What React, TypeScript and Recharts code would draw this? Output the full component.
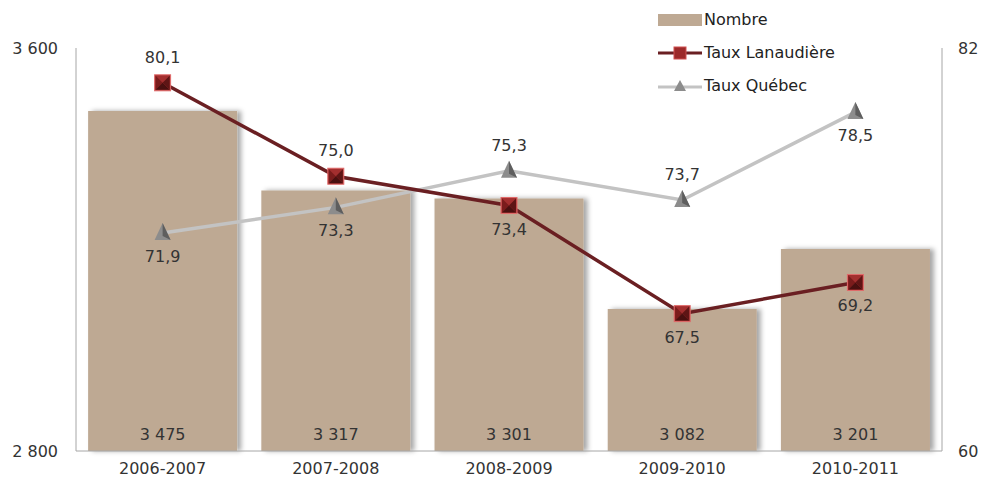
import { Bar, ComposedChart, LabelList, Line, XAxis, YAxis } from "recharts";

const years = ["2006-2007", "2007-2008", "2008-2009", "2009-2010", "2010-2011"];
const nombre = [3475, 3317, 3301, 3082, 3201];
const tauxLanaudiere = [80.1, 75.0, 73.4, 67.5, 69.2];
const tauxQuebec = [71.9, 73.3, 75.3, 73.7, 78.5];
const lanaudiereAbove = [true, true, false, false, false];
const quebecAbove = [false, false, true, true, false];

const data = years.map((year, i) => ({
  year,
  nombre: nombre[i],
  lanaudiere: tauxLanaudiere[i],
  quebec: tauxQuebec[i],
}));

const FONT = "Verdana, 'DejaVu Sans', sans-serif";
const FS = 16;
const BAR = "#bea993";
const MAROON = "#6a1f22";
const GREY_LINE = "#c3c3c3";

const fmtThousands = (v: number) => String(v).replace(/\B(?=(\d{3})+(?!\d))/g, " ");
const fmtComma = (v: number) => v.toFixed(1).replace(".", ",");

function SquareDot(props: any) {
  const { cx, cy } = props;
  if (cx == null || cy == null) return null;
  return (
    <g>
      <rect x={cx - 8} y={cy - 8} width={16} height={16} fill="#a32f2f" stroke="#e06a6a" strokeWidth={1} />
      <polygon points={`${cx - 7},${cy - 7} ${cx},${cy} ${cx - 7},${cy + 7}`} fill="#7a1c1c" />
      <polygon points={`${cx - 7},${cy + 7} ${cx},${cy} ${cx + 7},${cy + 7}`} fill="#4a1010" />
      <polygon points={`${cx + 7},${cy - 7} ${cx},${cy} ${cx + 7},${cy + 7}`} fill="#5e1515" />
    </g>
  );
}

function TriDot(props: any) {
  const { cx, cy } = props;
  if (cx == null || cy == null) return null;
  return (
    <g>
      <polygon points={`${cx},${cy - 10} ${cx + 8},${cy + 7} ${cx - 8},${cy + 7}`} fill="#8c8c8c" />
      <polygon points={`${cx},${cy - 10} ${cx + 8},${cy + 7} ${cx},${cy + 3}`} fill="#5e5e5e" />
    </g>
  );
}

function makeLineLabel(values: number[], above: boolean[]) {
  return (props: any) => {
    const { x, y, index } = props;
    const up = above[index];
    return (
      <text x={x} y={up ? y - 20 : y + 29} textAnchor="middle" fontSize={FS} fontFamily={FONT} fill="#333">
        {fmtComma(values[index])}
      </text>
    );
  };
}

function BarLabel(props: any) {
  const { x, width, index } = props;
  return (
    <text x={x + width / 2} y={440} textAnchor="middle" fontSize={FS} fontFamily={FONT} fill="#333">
      {fmtThousands(nombre[index])}
    </text>
  );
}

function LegendBox() {
  const row = { display: "flex", alignItems: "center", height: 33, fontSize: FS, fontFamily: FONT, color: "#222" } as const;
  return (
    <div style={{ position: "absolute", left: 658, top: 3 }}>
      <div style={row}>
        <div style={{ width: 44, height: 12, background: BAR, marginRight: 2 }} />
        Nombre
      </div>
      <div style={row}>
        <svg width={44} height={16} style={{ marginRight: 2 }}>
          <line x1={0} y1={8} x2={44} y2={8} stroke={MAROON} strokeWidth={3} />
          <rect x={16} y={2} width={12} height={12} fill="#9c2a2a" stroke="#d05050" />
        </svg>
        Taux Lanaudière
      </div>
      <div style={row}>
        <svg width={44} height={16} style={{ marginRight: 2 }}>
          <line x1={0} y1={9} x2={44} y2={9} stroke={GREY_LINE} strokeWidth={3} />
          <polygon points="22,2 28,13 16,13" fill="#8c8c8c" />
        </svg>
        Taux Québec
      </div>
    </div>
  );
}

export default function App() {
  return (
    <div style={{ position: "absolute", left: 0, top: 0, width: 981, height: 483, background: "#fff" }}>
      <ComposedChart
        width={981}
        height={483}
        data={data}
        margin={{ top: 48, right: 0, bottom: 0, left: 0 }}
        barCategoryGap="7%"
      >
        <defs>
          <filter id="barShadow" x="-10%" y="-10%" width="125%" height="120%">
            <feDropShadow dx={4} dy={0} stdDeviation={2.5} floodColor="#000" floodOpacity={0.35} />
          </filter>
        </defs>
        <XAxis
          dataKey="year"
          height={32}
          tickLine={false}
          axisLine={{ stroke: "#a6a6a6" }}
          tick={{ fontSize: FS, fontFamily: FONT, fill: "#333" }}
          tickMargin={6}
        />
        <YAxis
          yAxisId="left"
          width={76}
          domain={[2800, 3600]}
          ticks={[2800, 3600]}
          tickFormatter={fmtThousands}
          tickLine={false}
          axisLine={{ stroke: "#a6a6a6" }}
          tick={{ fontSize: FS, fontFamily: FONT, fill: "#333" }}
          tickMargin={12}
        />
        <YAxis
          yAxisId="right"
          orientation="right"
          width={39}
          domain={[60, 82]}
          ticks={[60, 82]}
          tickLine={false}
          axisLine={{ stroke: "#a6a6a6" }}
          tick={{ fontSize: FS, fontFamily: FONT, fill: "#333" }}
          tickMargin={10}
        />
        <Bar yAxisId="left" dataKey="nombre" name="Nombre" fill={BAR} filter="url(#barShadow)" isAnimationActive={false}>
          <LabelList dataKey="nombre" content={BarLabel} />
        </Bar>
        <Line
          yAxisId="right"
          dataKey="quebec"
          name="Taux Québec"
          stroke={GREY_LINE}
          strokeWidth={3.5}
          dot={<TriDot />}
          activeDot={false}
          isAnimationActive={false}
        >
          <LabelList dataKey="quebec" content={makeLineLabel(tauxQuebec, quebecAbove)} />
        </Line>
        <Line
          yAxisId="right"
          dataKey="lanaudiere"
          name="Taux Lanaudière"
          stroke={MAROON}
          strokeWidth={3.5}
          dot={<SquareDot />}
          activeDot={false}
          isAnimationActive={false}
        >
          <LabelList dataKey="lanaudiere" content={makeLineLabel(tauxLanaudiere, lanaudiereAbove)} />
        </Line>
      </ComposedChart>
      <LegendBox />
    </div>
  );
}
